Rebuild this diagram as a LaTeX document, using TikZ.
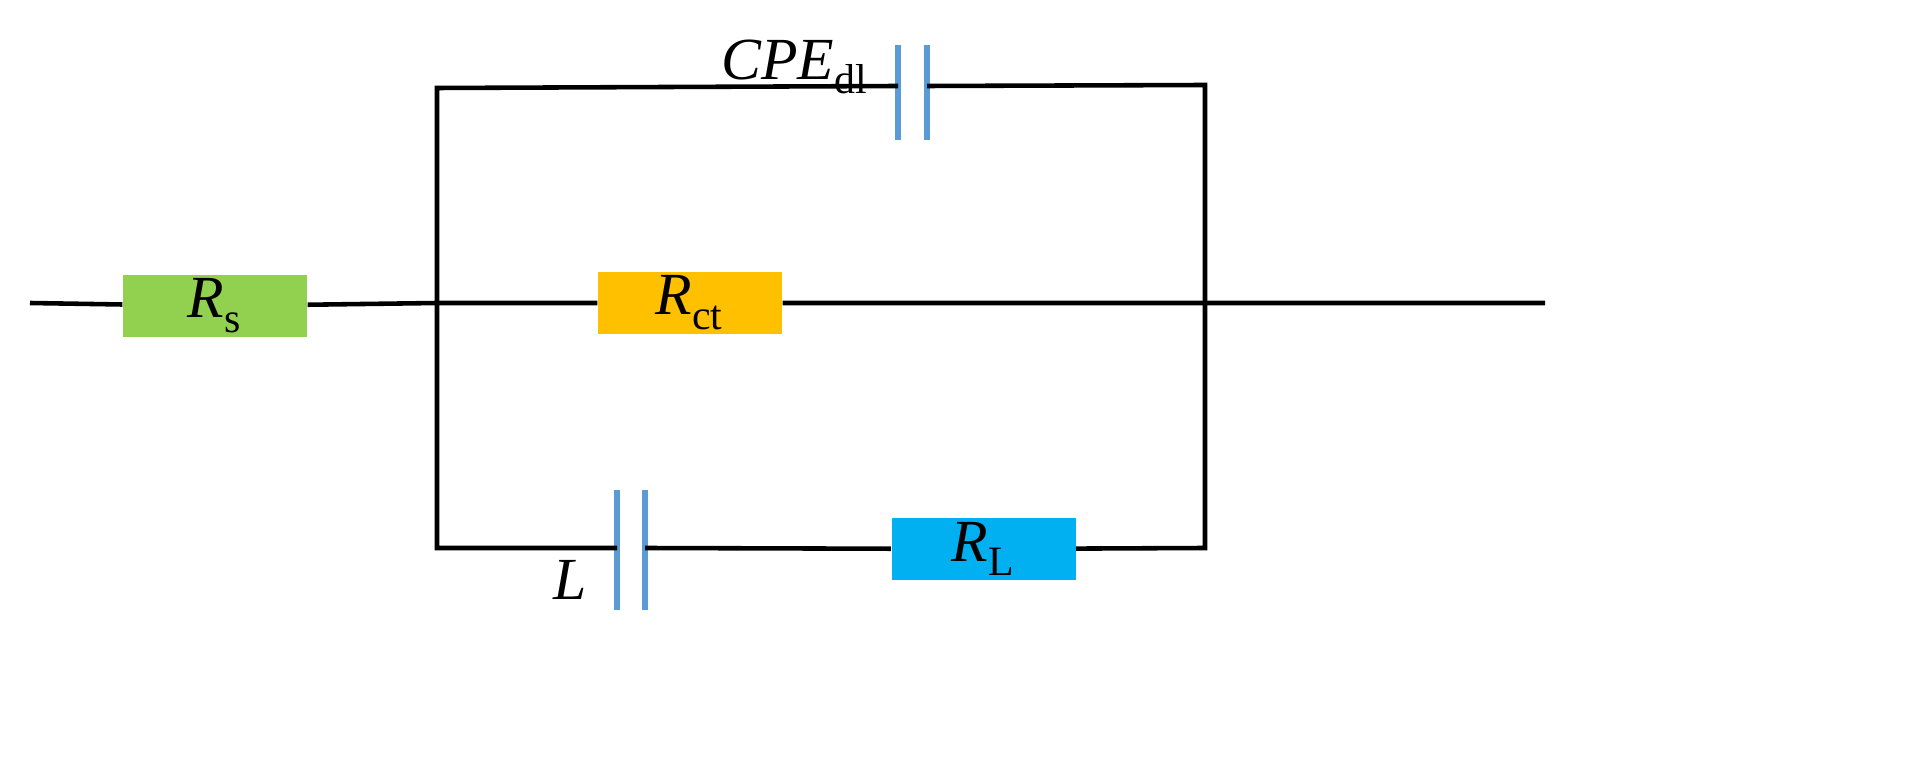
\documentclass[tikz,border=0pt]{standalone}
\usepackage{fontspec}
\setmainfont{Liberation Serif}
\usepackage{unicode-math}
\setmathfont{Latin Modern Math}
\setmathfont[range=it]{Liberation Serif Italic}
\setmathfont[range=up]{Liberation Serif}
\usepackage{xcolor}
\definecolor{rsgreen}{HTML}{92D050}
\definecolor{rctorange}{HTML}{FFC000}
\definecolor{rlblue}{HTML}{00B0F0}
\definecolor{capblue}{HTML}{5B9BD5}
\tikzset{
  wire/.style={black, line width=1.3pt},
  res/.style={minimum width=1.84cm, minimum height=0.62cm, inner sep=0pt, font=\fontsize{17}{20}\selectfont},
  plate/.style={capblue, line width=1.5pt},
}
\begin{document}
\begin{tikzpicture}
	\useasboundingbox (0,0) rectangle (19.25,7.82);
	%junctions
	\coordinate (in) at (0.30,4.79);
	\coordinate (out) at (15.45,4.79);
	\coordinate (jl) at (4.37,4.79);
	\coordinate (jr) at (12.05,4.79);
	\coordinate (tl) at (4.37,6.94);
	\coordinate (tr) at (12.05,6.97);
	\coordinate (bl) at (4.37,2.34);
	\coordinate (br) at (12.05,2.34);
	%resistors
	\node[res, fill=rsgreen] (Rs) at (2.15,4.76) {$R_{\mathrm{s}}$};
	\node[res, fill=rctorange] (Rct) at (6.90,4.79) {$R_{\mathrm{ct}}$};
	\node[res, fill=rlblue] (RL) at (9.835,2.33) {$R_{\mathrm{L}}$};
	%capacitor plates
	\coordinate (c1a) at (8.98,6.96);
	\coordinate (c1b) at (9.27,6.96);
	\coordinate (c2a) at (6.17,2.34);
	\coordinate (c2b) at (6.45,2.34);
	\draw[plate] (8.98,7.37) -- (8.98,6.42);
	\draw[plate] (9.27,7.37) -- (9.27,6.42);
	\draw[plate] (6.17,2.92) -- (6.17,1.72);
	\draw[plate] (6.45,2.92) -- (6.45,1.72);
	%wires
	\draw[wire] (in) -- (Rs) -- (jl) -- (Rct) -- (jr) -- (out);
	\draw[wire] (c1a) -- (tl) -- (bl) -- (c2a);
	\draw[wire] (c2b) -- (RL) -- (br) -- (tr) -- (c1b);
	%labels
	\node[font=\fontsize{17}{20}\selectfont] (cpe) at (7.95,7.15) {$CPE_{\mathrm{dl}}$};
	\node[font=\fontsize{17}{20}\selectfont] (lab) at (5.70,2.02) {$L$};
\end{tikzpicture}
\end{document}
